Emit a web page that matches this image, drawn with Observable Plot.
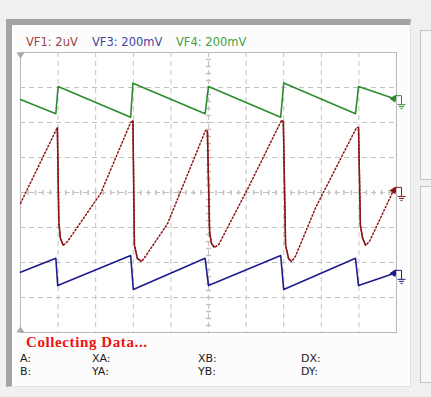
<!DOCTYPE html>
<html><head><meta charset="utf-8">
<script src="https://cdn.jsdelivr.net/npm/d3@7"></script>
<script src="https://cdn.jsdelivr.net/npm/@observablehq/plot@0.6"></script>
<style>
body{margin:0;background:#f0f0f0;font-family:"DejaVu Sans",sans-serif;}
#wrap{position:relative;width:431px;height:397px;overflow:hidden;}
.abs{position:absolute;white-space:nowrap;line-height:1;}
#chart svg{position:absolute;left:0;top:0;}
.lab{font-size:11.5px;}
.cur{font-size:11px;color:#1a1a1a;}
</style></head><body><div id="wrap">
<div class="abs" style="left:6px;top:19px;width:398px;height:361px;background:#fcfcfc;border-left:6px solid #a4a4a4;border-top:6px solid #a4a4a4;border-right:1px solid #e2e2e2;border-bottom:1px solid #e2e2e2"></div>
<div class="abs" style="left:420px;top:30px;width:20px;height:148px;border:1px solid #c4c4c4;background:#f7f7f7"></div>
<div class="abs" style="left:420px;top:186px;width:20px;height:195px;border:1px solid #c4c4c4;background:#f7f7f7"></div>
<div id="chart"></div>
<div class="abs lab" style="left:26px;top:37px;color:#9c4444">VF1: 2uV</div>
<div class="abs lab" style="left:92px;top:37px;color:#44449c">VF3: 200mV</div>
<div class="abs lab" style="left:176px;top:37px;color:#44a044">VF4: 200mV</div>
<div class="abs" style="left:26px;top:334px;font:bold 15px 'Liberation Serif',serif;letter-spacing:0.6px;color:#ee1111">Collecting Data...</div>
<div class="abs cur" style="left:20px;top:353px">A:</div>
<div class="abs cur" style="left:92px;top:353px">XA:</div>
<div class="abs cur" style="left:198px;top:353px">XB:</div>
<div class="abs cur" style="left:301px;top:353px">DX:</div>
<div class="abs cur" style="left:20px;top:366px">B:</div>
<div class="abs cur" style="left:92px;top:366px">YA:</div>
<div class="abs cur" style="left:198px;top:366px">YB:</div>
<div class="abs cur" style="left:301px;top:366px">DY:</div>
</div>
<script>
// time in divisions, values in divisions
const greenT = [0, 0.94, 1.0, 2.93, 2.99, 4.91, 5.0, 6.92, 7.0, 8.91, 8.99, 9.95];
const greenV = [2.66, 2.25, 3.03, 2.15, 3.12, 2.25, 3.03, 2.15, 3.13, 2.25, 3.03, 2.68];
const blueT = [0, 0.94, 0.99, 2.93, 3.0, 4.91, 5.0, 6.92, 7.0, 8.91, 8.99, 9.95];
const blueV = [-2.28, -1.88, -2.66, -1.80, -2.77, -1.88, -2.66, -1.80, -2.77, -1.88, -2.66, -2.31];
const redT = [0, 0.98, 1.02, 1.06, 1.14, 1.25, 2.13, 2.93, 2.99, 3.03, 3.11, 3.22, 3.32, 3.91, 4.92, 4.97, 5.03, 5.08, 5.16, 5.27, 6.06, 6.94, 6.99, 7.05, 7.13, 7.21, 7.31, 7.85, 8.94, 8.99, 9.04, 9.10, 9.18, 9.28, 9.92];
const redV = [-0.31, 1.86, -0.86, -1.31, -1.51, -1.40, -0.03, 2.0, 2.06, -1.51, -1.89, -1.97, -1.83, -0.89, 1.77, 1.77, -1.14, -1.46, -1.57, -1.49, 0.14, 2.06, 2.03, -1.51, -1.89, -1.97, -1.83, -0.43, 1.86, 1.86, -0.94, -1.31, -1.51, -1.40, 0.06];
const gridX = [1, 2, 3, 4, 5, 6, 7, 8, 9];
const gridY = [-3, -2, -1, 0, 1, 2, 3];

const COL = {red: "#8e1414", blue: "#1c1c8c", green: "#2c8c2c"};
const toRows = (T, V) => T.map((t, i) => ({t, v: V[i]}));
const green = toRows(greenT, greenV), blue = toRows(blueT, blueV), red = toRows(redT, redV);
const redDrops = red.slice(1).map((d, i) => ({a: red[i], b: d})).filter(p => p.b.v < p.a.v);

const minorX = d3.range(1, 50).map(i => i * 0.2);
const minorY = d3.range(1, 40).map(i => -4 + i * 0.2);
const vTick = {draw(c) { c.moveTo(0, -2.5); c.lineTo(0, 2.5); }};
const hTick = {draw(c) { c.moveTo(-2.5, 0); c.lineTo(2.5, 0); }};
const arrow = {draw(c) { c.moveTo(-7, 0); c.lineTo(-1, -4); c.lineTo(-1, 4); c.closePath(); }};
const ground = {draw(c) {
  c.moveTo(-1, 2); c.lineTo(-1, -3); c.lineTo(5, -3); c.lineTo(5, 6);
  c.moveTo(1, 6); c.lineTo(9, 6); c.moveTo(2.5, 8); c.lineTo(7.5, 8); c.moveTo(4, 10); c.lineTo(6, 10);
}};
const trigDown = {draw(c) { c.moveTo(-4, 0); c.lineTo(4, 0); c.lineTo(0, 6); c.closePath(); }};
const trigUp = {draw(c) { c.moveTo(-4, 0); c.lineTo(4, 0); c.lineTo(0, -6); c.closePath(); }};
const markers = [
  {t: 10, v: greenV[greenV.length - 1], c: COL.green},
  {t: 10, v: redV[redV.length - 1], c: COL.red},
  {t: 10, v: blueV[blueV.length - 1], c: COL.blue}
];

const chart = Plot.plot({
  width: 431, height: 397,
  marginLeft: 20, marginRight: 35, marginTop: 52, marginBottom: 65,
  x: {domain: [0, 10], axis: null},
  y: {domain: [-4, 4], axis: null},
  style: {background: "transparent", overflow: "visible"},
  marks: [
    Plot.frame({fill: "white", stroke: "#b8b8b8"}),
    Plot.ruleX(gridX, {stroke: "#c2c2c2", strokeDasharray: "5,4", strokeOpacity: 1}),
    Plot.ruleY(gridY, {stroke: "#c2c2c2", strokeDasharray: "5,4", strokeOpacity: 1}),
    Plot.dot(minorX, {x: d => d, y: 0, symbol: vTick, stroke: "#c2c2c2", fill: "none", r: 3}),
    Plot.dot(minorY, {x: 5, y: d => d, symbol: hTick, stroke: "#c2c2c2", fill: "none", r: 3}),
    Plot.dot([0], {x: 0, y: 4, symbol: trigDown, fill: "#a8a8a8", stroke: "none", r: 4}),
    Plot.dot([0], {x: 0, y: -4, symbol: trigUp, fill: "#a8a8a8", stroke: "none", r: 4}),
    Plot.line(green, {x: "t", y: "v", stroke: COL.green, strokeWidth: 1.6}),
    Plot.line(blue, {x: "t", y: "v", stroke: COL.blue, strokeWidth: 1.6}),
    Plot.line(red, {x: "t", y: "v", stroke: COL.red, strokeWidth: 1.5, strokeDasharray: "1.5,2.2"}),
    Plot.link(redDrops, {x1: d => d.a.t, y1: d => d.a.v, x2: d => d.b.t, y2: d => d.b.v, stroke: COL.red, strokeWidth: 1.5}),
    Plot.dot(markers, {x: "t", y: "v", symbol: arrow, fill: "c", stroke: "none", r: 4}),
    Plot.dot(markers, {x: "t", y: "v", symbol: ground, stroke: "c", fill: "none", r: 4, strokeWidth: 1})
  ]
});
document.getElementById("chart").appendChild(chart);
</script>
</body></html>
